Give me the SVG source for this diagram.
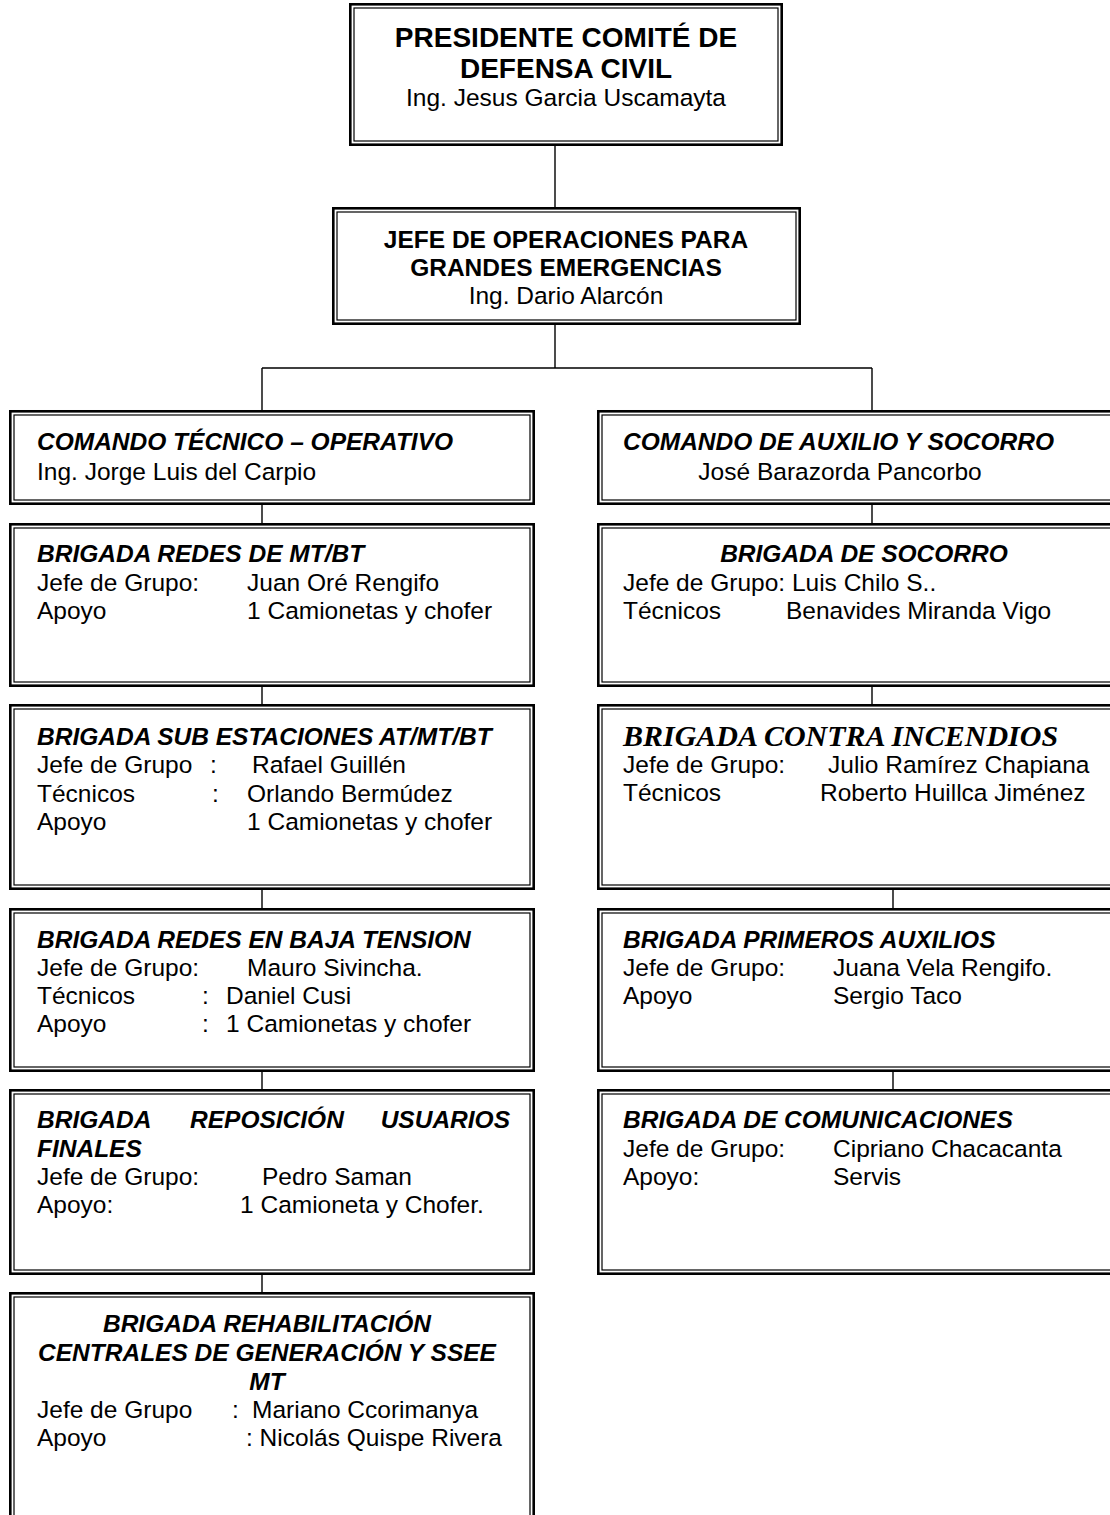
<svg xmlns="http://www.w3.org/2000/svg" width="1110" height="1515" viewBox="0 0 1110 1515">
<style>
.o{fill:#fff;stroke:#000;stroke-width:2.6}
.i{fill:none;stroke:#000;stroke-width:1.2}
.c{fill:none;stroke:#000;stroke-width:1.4}
text{font-family:"Liberation Sans",Arial,sans-serif;font-size:24.5px;fill:#000}
.b{font-weight:bold}
.bi{font-weight:bold;font-style:italic}
.t{font-weight:bold;font-size:28px}
.s{font-family:"Liberation Serif","Times New Roman",serif;font-weight:bold;font-style:italic;font-size:30px}
.m{text-anchor:middle}
.e{text-anchor:end}
</style>
<g id="connectors">
<path class="c" d="M555,146 V207 M555,325 V368 M262,368 H872 M262,368 V410 M872,368 V410 M262,505 V523 M262,687 V704 M262,890 V908 M262,1072 V1089 M262,1275 V1292 M872,505 V523 M872,687 V704 M893,890 V908 M893,1072 V1089"/>
</g>
<g id="presidente">
<rect class="o" x="350.3" y="4.3" width="431.4" height="140.4"/>
<rect class="i" x="354" y="8" width="424" height="133"/>
<text class="t m" x="566" y="47">PRESIDENTE COMITÉ DE</text>
<text class="t m" x="566" y="78">DEFENSA CIVIL</text>
<text class="m" x="566" y="106">Ing. Jesus Garcia Uscamayta</text>
</g>
<g id="jefe-operaciones">
<rect class="o" x="333.3" y="208.3" width="466.4" height="115.4"/>
<rect class="i" x="337" y="212" width="459" height="108"/>
<text class="b m" x="566" y="248">JEFE DE OPERACIONES PARA</text>
<text class="b m" x="566" y="276">GRANDES EMERGENCIAS</text>
<text class="m" x="566" y="304">Ing. Dario Alarcón</text>
</g>
<g id="comando-tecnico">
<rect class="o" x="10.3" y="411.3" width="523.4" height="92.4"/>
<rect class="i" x="14" y="415" width="516" height="85"/>
<text class="bi" x="37" y="450">COMANDO TÉCNICO – OPERATIVO</text>
<text x="37" y="480">Ing. Jorge Luis del Carpio</text>
</g>
<g id="brigada-redes-mtbt">
<rect class="o" x="10.3" y="524.3" width="523.4" height="161.4"/>
<rect class="i" x="14" y="528" width="516" height="154"/>
<text class="bi" x="37" y="562">BRIGADA REDES DE MT/BT</text>
<text x="37" y="591">Jefe de Grupo:</text><text x="247" y="591">Juan Oré Rengifo</text>
<text x="37" y="619">Apoyo</text><text x="247" y="619">1 Camionetas y chofer</text>
</g>
<g id="brigada-sub-estaciones">
<rect class="o" x="10.3" y="705.3" width="523.4" height="183.4"/>
<rect class="i" x="14" y="709" width="516" height="176"/>
<text class="bi" x="37" y="745">BRIGADA SUB ESTACIONES AT/MT/BT</text>
<text x="37" y="773">Jefe de Grupo</text><text x="210" y="773">:</text><text x="252" y="773">Rafael Guillén</text>
<text x="37" y="802">Técnicos</text><text x="212" y="802">:</text><text x="247" y="802">Orlando Bermúdez</text>
<text x="37" y="830">Apoyo</text><text x="247" y="830">1 Camionetas y chofer</text>
</g>
<g id="brigada-baja-tension">
<rect class="o" x="10.3" y="909.3" width="523.4" height="161.4"/>
<rect class="i" x="14" y="913" width="516" height="154"/>
<text class="bi" x="37" y="948">BRIGADA REDES EN BAJA TENSION</text>
<text x="37" y="976">Jefe de Grupo:</text><text x="247" y="976">Mauro Sivincha.</text>
<text x="37" y="1004">Técnicos</text><text x="202" y="1004">:</text><text x="226" y="1004">Daniel Cusi</text>
<text x="37" y="1032">Apoyo</text><text x="202" y="1032">:</text><text x="226" y="1032">1 Camionetas y chofer</text>
</g>
<g id="brigada-reposicion">
<rect class="o" x="10.3" y="1090.3" width="523.4" height="183.4"/>
<rect class="i" x="14" y="1094" width="516" height="176"/>
<text class="bi" x="37" y="1128">BRIGADA</text><text class="bi" x="190" y="1128">REPOSICIÓN</text><text class="bi e" x="510" y="1128">USUARIOS</text>
<text class="bi" x="37" y="1157">FINALES</text>
<text x="37" y="1185">Jefe de Grupo:</text><text x="262" y="1185">Pedro Saman</text>
<text x="37" y="1213">Apoyo:</text><text x="240" y="1213">1 Camioneta y Chofer.</text>
</g>
<g id="brigada-rehabilitacion">
<rect class="o" x="10.3" y="1293.3" width="523.4" height="240"/>
<rect class="i" x="14" y="1297" width="516" height="240"/>
<text class="bi m" x="267" y="1332">BRIGADA REHABILITACIÓN</text>
<text class="bi m" x="267" y="1361">CENTRALES DE GENERACIÓN Y SSEE</text>
<text class="bi m" x="267" y="1390">MT</text>
<text x="37" y="1418">Jefe de Grupo</text><text x="232" y="1418">:</text><text x="252" y="1418">Mariano Ccorimanya</text>
<text x="37" y="1446">Apoyo</text><text x="246" y="1446">: Nicolás Quispe Rivera</text>
</g>
<g id="comando-auxilio">
<rect class="o" x="598.3" y="411.3" width="530" height="92.4"/>
<rect class="i" x="602" y="415" width="530" height="85"/>
<text class="bi" x="623" y="450">COMANDO DE AUXILIO Y SOCORRO</text>
<text class="m" x="840" y="480">José Barazorda Pancorbo</text>
</g>
<g id="brigada-socorro">
<rect class="o" x="598.3" y="524.3" width="530" height="161.4"/>
<rect class="i" x="602" y="528" width="530" height="154"/>
<text class="bi m" x="864" y="562">BRIGADA DE SOCORRO</text>
<text x="623" y="591">Jefe de Grupo: Luis Chilo S..</text>
<text x="623" y="619">Técnicos</text><text x="786" y="619">Benavides Miranda Vigo</text>
</g>
<g id="brigada-incendios">
<rect class="o" x="598.3" y="705.3" width="530" height="183.4"/>
<rect class="i" x="602" y="709" width="530" height="176"/>
<text class="s" x="623" y="746">BRIGADA CONTRA INCENDIOS</text>
<text x="623" y="773">Jefe de Grupo:</text><text x="828" y="773">Julio Ramírez Chapiana</text>
<text x="623" y="801">Técnicos</text><text x="820" y="801">Roberto Huillca Jiménez</text>
</g>
<g id="brigada-primeros-auxilios">
<rect class="o" x="598.3" y="909.3" width="530" height="161.4"/>
<rect class="i" x="602" y="913" width="530" height="154"/>
<text class="bi" x="623" y="948">BRIGADA PRIMEROS AUXILIOS</text>
<text x="623" y="976">Jefe de Grupo:</text><text x="833" y="976">Juana Vela Rengifo.</text>
<text x="623" y="1004">Apoyo</text><text x="833" y="1004">Sergio Taco</text>
</g>
<g id="brigada-comunicaciones">
<rect class="o" x="598.3" y="1090.3" width="530" height="183.4"/>
<rect class="i" x="602" y="1094" width="530" height="176"/>
<text class="bi" x="623" y="1128">BRIGADA DE COMUNICACIONES</text>
<text x="623" y="1157">Jefe de Grupo:</text><text x="833" y="1157">Cipriano Chacacanta</text>
<text x="623" y="1185">Apoyo:</text><text x="833" y="1185">Servis</text>
</g>
</svg>
